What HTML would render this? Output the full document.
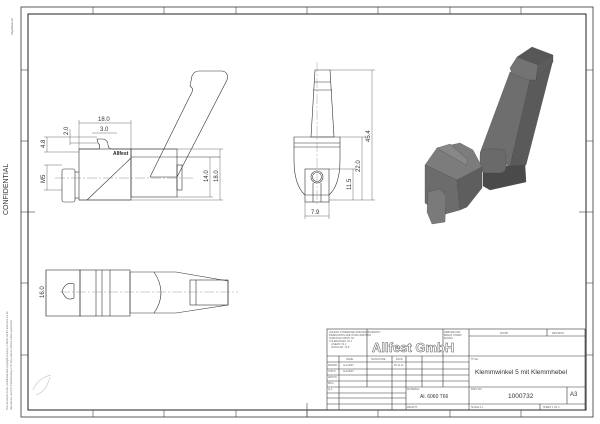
<!DOCTYPE html>
<html><head><meta charset="utf-8"><style>
html,body{margin:0;padding:0;background:#fff;}
svg{display:block;font-family:"Liberation Sans",sans-serif;}
</style></head><body>
<svg width="600" height="424" viewBox="0 0 600 424" xmlns="http://www.w3.org/2000/svg">
<rect width="600" height="424" fill="#fff"/>
<rect x="21" y="7" width="572" height="410" fill="none" stroke="#333" stroke-width="0.8"/>
<rect x="28" y="14" width="558" height="396" fill="none" stroke="#222" stroke-width="1"/>
<g stroke="#444" stroke-width="0.6">
<line x1="93" y1="7" x2="93" y2="14"/><line x1="164" y1="7" x2="164" y2="14"/><line x1="236" y1="7" x2="236" y2="14"/><line x1="307" y1="7" x2="307" y2="14"/><line x1="378" y1="7" x2="378" y2="14"/><line x1="450" y1="7" x2="450" y2="14"/><line x1="521" y1="7" x2="521" y2="14"/>
<line x1="93" y1="410" x2="93" y2="417"/><line x1="164" y1="410" x2="164" y2="417"/><line x1="236" y1="410" x2="236" y2="417"/><line x1="307" y1="410" x2="307" y2="417"/><line x1="378" y1="410" x2="378" y2="417"/><line x1="450" y1="410" x2="450" y2="417"/><line x1="521" y1="410" x2="521" y2="417"/>
<line x1="21" y1="70" x2="28" y2="70"/><line x1="21" y1="141" x2="28" y2="141"/><line x1="21" y1="212" x2="35" y2="212"/><line x1="21" y1="283" x2="28" y2="283"/><line x1="21" y1="355" x2="28" y2="355"/>
<line x1="586" y1="70" x2="593" y2="70"/><line x1="586" y1="141" x2="593" y2="141"/><line x1="579" y1="212" x2="593" y2="212"/><line x1="586" y1="283" x2="593" y2="283"/><line x1="586" y1="355" x2="593" y2="355"/>
<line x1="307" y1="403" x2="307" y2="417"/>
</g>
<text x="8" y="215" font-size="7" transform="rotate(-90 8 215)" fill="#333">CONFIDENTIAL</text>
<text x="13" y="35" font-size="2.5" transform="rotate(-90 13 35)" fill="#666">Page/Sheet A3</text>
<text x="8" y="410" font-size="2.5" transform="rotate(-90 8 410)" fill="#777">This document is the confidential and copyright property of Allfest GmbH and must not be</text>
<text x="12" y="410" font-size="2.5" transform="rotate(-90 12 410)" fill="#777">reproduced, used for manufacturing or for any purpose without written permission</text>

<!-- front view -->
<g fill="none" stroke="#333" stroke-width="0.6">
<rect x="79" y="149" width="52" height="51"/>
<rect x="131" y="149" width="46" height="48"/>
<rect x="177" y="165" width="5" height="25"/>
<rect x="62" y="169" width="13" height="33" rx="2"/>
<line x1="75" y1="172" x2="79" y2="172"/><line x1="75" y1="198" x2="79" y2="198"/>
<line x1="87" y1="200" x2="131" y2="158"/>
<line x1="131" y1="157" x2="220" y2="157"/>
<path d="M150 177 L192 92 Q194 89 190 86 L192 76 Q194 71 199 71 L222 71 Q229 72 227 80 L177 177"/>
<line x1="150" y1="177" x2="177" y2="177"/>
<path d="M79 149 L99 149 Q101 146 98 143 L97 139 L103 139 Q108 140 108 145 Q108 149 113 149 L131 149"/>
</g>
<line x1="55" y1="178" x2="195" y2="178" stroke="#777" stroke-width="0.4" stroke-dasharray="10 2 2 2"/>
<text x="113" y="155" font-size="5" font-weight="bold" fill="#222">Allfest</text>
<g stroke="#444" stroke-width="0.4" fill="none">
<line x1="79" y1="123" x2="131" y2="123"/><line x1="79" y1="120" x2="79" y2="149"/><line x1="131" y1="120" x2="131" y2="149"/>
<line x1="92" y1="133" x2="117" y2="133"/>
<line x1="47" y1="137" x2="47" y2="152"/><line x1="44" y1="137" x2="97" y2="137"/><line x1="44" y1="152" x2="79" y2="152"/>
<line x1="70" y1="129" x2="70" y2="145"/><line x1="70" y1="143" x2="97" y2="143"/>
<line x1="47" y1="165" x2="47" y2="190"/><line x1="44" y1="165" x2="62" y2="165"/><line x1="44" y1="190" x2="62" y2="190"/>
<line x1="210" y1="157" x2="210" y2="197"/><line x1="177" y1="197" x2="213" y2="197"/>
<line x1="220" y1="149" x2="220" y2="200"/><line x1="131" y1="149" x2="223" y2="149"/><line x1="79" y1="200" x2="223" y2="200"/>
</g>
<g font-size="6" fill="#333">
<text x="98" y="121">18.0</text><text x="100" y="131">3.0</text>
<text x="45" y="148" transform="rotate(-90 45 148)">4.8</text>
<text x="68" y="135" transform="rotate(-90 68 135)">2.0</text>
<text x="45" y="183" transform="rotate(-90 45 183)">M5</text>
<text x="208" y="182" transform="rotate(-90 208 182)">14.0</text>
<text x="218" y="182" transform="rotate(-90 218 182)">18.0</text>
</g>

<!-- side view -->
<g fill="none" stroke="#333" stroke-width="0.6">
<path d="M315 70 L330 70 L334 137 L311 137 Z"/>
<line x1="314" y1="82" x2="331" y2="82"/><line x1="313" y1="90" x2="332" y2="90"/>
<path d="M294 137 L340 137 L340 160 Q340 185 329 195 L305 195 Q294 185 294 160 Z"/>
<line x1="294" y1="143" x2="340" y2="143"/><line x1="294" y1="147" x2="340" y2="147"/>
<rect x="305" y="169" width="24" height="33"/>
<circle cx="317" cy="177" r="6"/><circle cx="317" cy="177" r="4.5"/>
<line x1="313" y1="183" x2="313" y2="202"/><line x1="321" y1="183" x2="321" y2="202"/>
</g>
<line x1="317" y1="62" x2="317" y2="205" stroke="#888" stroke-width="0.4" stroke-dasharray="10 2 2 2"/>
<g stroke="#444" stroke-width="0.4" fill="none">
<line x1="330" y1="70" x2="375" y2="70"/><line x1="372" y1="70" x2="372" y2="200"/>
<line x1="340" y1="137" x2="365" y2="137"/><line x1="362" y1="137" x2="362" y2="200"/>
<line x1="329" y1="169" x2="356" y2="169"/><line x1="353" y1="169" x2="353" y2="200"/>
<line x1="329" y1="200" x2="375" y2="200"/>
<line x1="305" y1="216" x2="329" y2="216"/><line x1="305" y1="202" x2="305" y2="219"/><line x1="329" y1="202" x2="329" y2="219"/>
</g>
<g font-size="6" fill="#333">
<text x="370" y="142" transform="rotate(-90 370 142)">45.4</text>
<text x="360" y="172" transform="rotate(-90 360 172)">22.0</text>
<text x="351" y="190" transform="rotate(-90 351 190)">11.5</text>
<text x="311" y="214">7.9</text>
</g>

<!-- bottom view -->
<g fill="none" stroke="#333" stroke-width="0.6">
<rect x="46" y="270" width="34" height="46"/>
<rect x="80" y="270" width="50" height="46"/>
<line x1="96" y1="270" x2="96" y2="316"/><line x1="102" y1="270" x2="102" y2="316"/><line x1="110" y1="270" x2="110" y2="316"/>
<path d="M130 272 L154 272 Q168 293 154 313 L130 313 Z"/>
<path d="M154 272 L176 272 L228 281 L228 305 L176 313 L154 313"/>
<rect x="190" y="280" width="38" height="25"/>
<line x1="196" y1="280" x2="196" y2="305"/>
<path d="M62 291 Q66 281 74 284 L74 298 Q66 302 62 291 Z"/>
</g>
<line x1="60" y1="292" x2="238" y2="292" stroke="#888" stroke-width="0.4" stroke-dasharray="10 2 2 2"/>
<line x1="46" y1="270" x2="46" y2="316" stroke="#444" stroke-width="0.4"/>
<text x="44" y="298" font-size="6" fill="#333" transform="rotate(-90 44 298)">16.0</text>
<path d="M33 390 q5 -12 18 -15 M36 395 q10 -3 14 -18" stroke="#ccc" fill="none" stroke-width="0.7"/>

<!-- 3D view -->
<g stroke="#444" stroke-width="0.3" stroke-linejoin="round">
<!-- bottom platform -->
<polygon points="483,168 525,164 526,182 490,190 483,186" fill="#4a4a4a"/>
<!-- arm left face -->
<polygon points="510,72 530,80 510,166 480,153" fill="#6e6e6e"/>
<!-- arm right face -->
<polygon points="530,80 553,60 526,165 510,166" fill="#5a5a5a"/>
<!-- top block -->
<polygon points="517,57 532,47 553,55 538,65" fill="#575757"/>
<polygon points="517,57 538,65 536,80 528,80 512,74 510,68" fill="#737373"/>
<polygon points="538,65 553,55 553,62 536,80" fill="#5c5c5c"/>
<!-- cylinder -->
<rect x="480" y="149" width="26" height="24" rx="6" fill="#6a6a6a"/>
<!-- base block -->
<polygon points="437,148 460,143 473,150 482,167 457,180 425,165" fill="#7c7c7c"/>
<polygon points="425,165 457,180 460,210 442,215 425,203" fill="#6c6c6c"/>
<polygon points="457,180 482,167 482,188 467,207 460,210" fill="#5e5e5e"/>
<polygon points="437,148 450,144 468,160 466,165" fill="#888"/>
<!-- knob -->
<polygon points="428,192 440,189 446,196 445,222 432,224 427,212" fill="#7a7a7a"/>
</g>

<!-- title block -->
<g fill="none" stroke="#333" stroke-width="0.6">
<rect x="327" y="329" width="258" height="81"/>
<line x1="327" y1="356" x2="585" y2="356"/>
<line x1="367" y1="329" x2="367" y2="356"/><line x1="443" y1="329" x2="443" y2="387"/><line x1="469" y1="329" x2="469" y2="410"/>
<line x1="469" y1="336" x2="585" y2="336"/><line x1="547" y1="329" x2="547" y2="336"/>
<line x1="469" y1="387" x2="585" y2="387"/><line x1="469" y1="404" x2="585" y2="404"/>
<line x1="567" y1="387" x2="567" y2="404"/><line x1="540" y1="404" x2="540" y2="410"/>
<line x1="406" y1="387" x2="469" y2="387"/><line x1="406" y1="404" x2="469" y2="404"/>
<line x1="339" y1="356" x2="339" y2="410"/><line x1="367" y1="356" x2="367" y2="387"/><line x1="392" y1="356" x2="392" y2="410"/><line x1="406" y1="356" x2="406" y2="410"/><line x1="422" y1="356" x2="422" y2="387"/>
<line x1="327" y1="362" x2="469" y2="362"/><line x1="327" y1="369" x2="469" y2="369"/><line x1="327" y1="375" x2="469" y2="375"/><line x1="327" y1="381" x2="469" y2="381"/><line x1="327" y1="387" x2="406" y2="387"/><line x1="327" y1="393" x2="406" y2="393"/><line x1="327" y1="398" x2="406" y2="398"/><line x1="327" y1="404" x2="406" y2="404"/>
</g>
<g font-size="2.5" fill="#666">
<text x="329" y="333">UNLESS OTHERWISE SPECIFIED:</text><text x="329" y="336">DIMENSIONS ARE IN MILLIMETERS</text><text x="329" y="339">SURFACE FINISH: N7</text><text x="329" y="342">TOLERANCES: ±0.1</text><text x="331" y="345">LINEAR: ±0.1</text><text x="331" y="348">ANGULAR: ±0.5</text>
<text x="368" y="333">COMPANY:</text>
<text x="444" y="333">DEBURR AND</text><text x="444" y="336">BREAK SHARP</text><text x="444" y="339">EDGES</text>
<text x="500" y="334">FINISH</text><text x="552" y="334">REVISION</text>
<text x="346" y="360">NAME</text><text x="371" y="360">SIGNATURE</text><text x="396" y="360">DATE</text>
<text x="328" y="366">DRAWN</text><text x="343" y="366">ALLFEST</text><text x="394" y="366">25.11.11</text>
<text x="328" y="372">CHK'D</text><text x="343" y="372">ALLFEST</text>
<text x="328" y="378">APPV'D</text><text x="328" y="384">MFG</text><text x="328" y="390">Q.A</text>
<text x="407" y="390">MATERIAL:</text><text x="407" y="408">WEIGHT:</text>
<text x="471" y="360">TITLE:</text><text x="471" y="390">DWG NO.</text><text x="471" y="408">SCALE:1:1</text><text x="543" y="408">SHEET 1 OF 1</text>
</g>
<text x="372" y="352" font-size="13" font-weight="bold" fill="#fff" stroke="#555" stroke-width="0.5">Allfest GmbH</text>
<text x="475" y="374" font-size="6.5" fill="#333">Klemmwinkel 5 mit Klemmhebel</text>
<text x="420" y="398" font-size="5" fill="#333">Al. 6060 T66</text>
<text x="508" y="398" font-size="6.5" fill="#333">1000732</text>
<text x="570" y="396" font-size="6" fill="#333">A3</text>
</svg>
</body></html>
